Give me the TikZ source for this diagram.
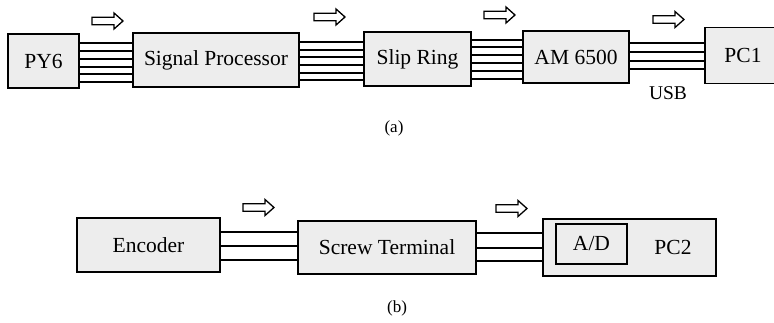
\documentclass[tikz,border=0pt]{standalone}
\usepackage{fontspec}
\setmainfont{Liberation Serif}
\begin{document}
\begin{tikzpicture}[x=1pt,y=-1pt,
  unit/.style={draw,line width=1.5pt,fill=black!7,inner sep=0pt,
    font=\fontsize{21.5}{24}\selectfont},
  wire/.style={line width=1.3pt},
  caption/.style={inner sep=0pt,font=\fontsize{17}{19}\selectfont},
  pics/flowarrow/.style={code={
    \draw[line width=1.3pt,fill=white]
      (0,-3.8) -- (22,-3.8) -- (22,-8) -- (31,0) -- (22,8) -- (22,3.8)
      -- (0,3.8) -- cycle;}}]
\useasboundingbox (0,0) rectangle (774,322);

% (a) measurement chain
\node[unit,minimum width=71pt,minimum height=54pt]  (py6) at (43.5,61)  {PY6};
\node[unit,minimum width=166pt,minimum height=54pt] (sp)  at (216,60)   {Signal Processor};
\node[unit,minimum width=107pt,minimum height=54pt] (sr)  at (417.5,59) {Slip Ring};
\node[unit,minimum width=106pt,minimum height=52pt] (am)  at (576,57)   {AM 6500};
\node[unit,minimum width=76pt,minimum height=56pt,text width=76pt,align=center]
      (pc1) at (743,55.5) {PC1};

\foreach \yy in {43,51,59,67,74,82}
  \draw[wire] (py6.east |- 0,\yy) -- (sp.west |- 0,\yy);
\foreach \yy in {42,50,57,65,73,80}
  \draw[wire] (sp.east |- 0,\yy) -- (sr.west |- 0,\yy);
\foreach \yy in {40,47,55,63,71,79}
  \draw[wire] (sr.east |- 0,\yy) -- (am.west |- 0,\yy);
\foreach \yy in {43,52,61,69}
  \draw[wire] (am.east |- 0,\yy) -- (pc1.west |- 0,\yy);

\pic at (92,21)  {flowarrow};
\pic at (314,17) {flowarrow};
\pic at (484,15) {flowarrow};
\pic at (653,19.5) {flowarrow};

\node[inner sep=0pt,font=\fontsize{19.5}{22}\selectfont] (usb) at (668,93.5) {USB};
\node[caption] (capa) at (394,128) {(a)};

% (b) encoder chain
\node[unit,minimum width=143pt,minimum height=54pt] (enc) at (148.5,245)  {Encoder};
\node[unit,minimum width=178pt,minimum height=53pt] (st)  at (387,247.5)  {Screw Terminal};
\node[unit,minimum width=173pt,minimum height=57pt] (pc2) at (629.5,247.5) {};
\node[unit,minimum width=71pt,minimum height=40pt]  (ad)  at (591.5,244)  {A/D};
\node[inner sep=0pt,font=\fontsize{21.5}{24}\selectfont] (pc2lbl) at (673,247) {PC2};

\foreach \yy in {232,246,260}
  \draw[wire] (enc.east |- 0,\yy) -- (st.west |- 0,\yy);
\foreach \yy in {233,248,261}
  \draw[wire] (st.east |- 0,\yy) -- (pc2.west |- 0,\yy);

\pic at (243,207.5) {flowarrow};
\pic at (496,208.5) {flowarrow};

\node[caption] (capb) at (397,308) {(b)};
\end{tikzpicture}
\end{document}
